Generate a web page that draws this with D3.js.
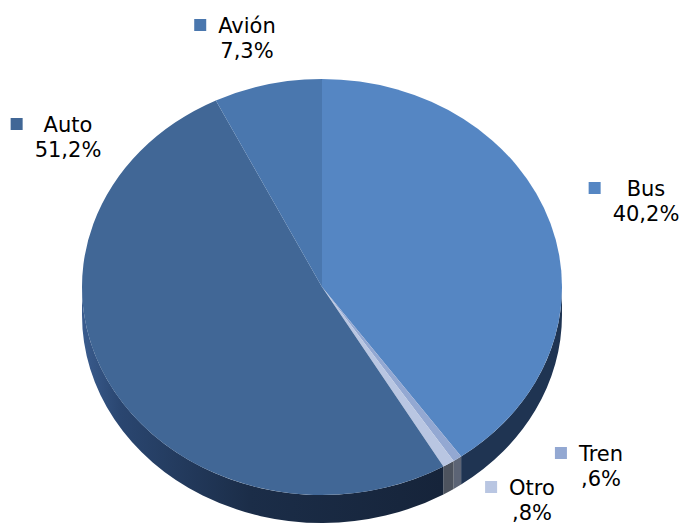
<!DOCTYPE html>
<html><head><meta charset="utf-8">
<script src="https://cdn.jsdelivr.net/npm/d3@7/dist/d3.min.js"></script>
<style>html,body{margin:0;padding:0;background:#fff}svg{display:block}</style>
</head><body>
<svg id="c" width="686" height="524"></svg>
<script>
const categories = ["Bus", "Tren", "Otro", "Auto", "Avión"];
const values = [40.2, 0.6, 0.8, 51.2, 7.3];
const labels = ["40,2%", ",6%", ",8%", "51,2%", "7,3%"];
const topColors = ["#5586C3", "#93A8D2", "#B9C6E2", "#416796", "#4A77AE"];
const sideColors = ["#1F3452", "#5C6475", "#4D535E", "#1A2B45", "#2A4670"];
// label anchor positions (centre of text block, first baseline)
const labelPos = [[646, 196], [601, 461], [532, 495], [68, 132], [247, 33]];

const svg = d3.select("#c");
const cx = 322, cy = 287, rx = 240, ry = 208, depth = 28;
const P = (a, dy = 0) => [cx + rx * Math.sin(a), cy - ry * Math.cos(a) + dy];

const arcs = d3.pie().sort(null).value(d => d)(values);

const defs = svg.append("defs");
const g = defs.append("linearGradient").attr("id", "autoSide")
  .attr("gradientUnits", "userSpaceOnUse").attr("x1", cx - rx).attr("x2", cx + rx).attr("y1", 0).attr("y2", 0);
g.append("stop").attr("offset", "0").attr("stop-color", "#3A5C8E");
g.append("stop").attr("offset", "0.08").attr("stop-color", "#2A4670");
g.append("stop").attr("offset", "0.35").attr("stop-color", "#1B2D48");
g.append("stop").attr("offset", "0.75").attr("stop-color", "#16243A");
g.append("stop").attr("offset", "1").attr("stop-color", "#16243A");

// side walls
arcs.forEach((d, i) => {
  const s = Math.max(d.startAngle, Math.PI / 2), e = Math.min(d.endAngle, 3 * Math.PI / 2);
  if (e <= s) return;
  const p0 = P(s), p1 = P(e), q1 = P(e, depth), q0 = P(s, depth);
  const large = (e - s) > Math.PI ? 1 : 0;
  const path = `M${p0}A${rx},${ry} 0 ${large} 1 ${p1}L${q1}A${rx},${ry} 0 ${large} 0 ${q0}Z`;
  svg.append("path").attr("d", path)
    .attr("fill", categories[i] === "Auto" ? "url(#autoSide)" : sideColors[i]);
});

// top faces
arcs.forEach((d, i) => {
  const p0 = P(d.startAngle), p1 = P(d.endAngle);
  const large = (d.endAngle - d.startAngle) > Math.PI ? 1 : 0;
  svg.append("path")
    .attr("d", `M${cx},${cy}L${p0}A${rx},${ry} 0 ${large} 1 ${p1}Z`)
    .attr("fill", topColors[i]);
});

// labels
const font = "DejaVu Sans, Verdana, sans-serif";
categories.forEach((c, i) => {
  const [x, y] = labelPos[i];
  const t1 = svg.append("text").attr("x", x).attr("y", y).attr("text-anchor", "middle")
    .attr("font-family", font).attr("font-size", 21).attr("fill", "#000").text(c);
  const t2 = svg.append("text").attr("x", x).attr("y", y + 25).attr("text-anchor", "middle")
    .attr("font-family", font).attr("font-size", 21).attr("fill", "#000").text(labels[i]);
  const w = Math.max(t1.node().getComputedTextLength(), t2.node().getComputedTextLength());
  svg.append("rect").attr("x", x - w / 2 - 24).attr("y", y - 14).attr("width", 12).attr("height", 12)
    .attr("fill", topColors[i]);
});
</script>
</body></html>
